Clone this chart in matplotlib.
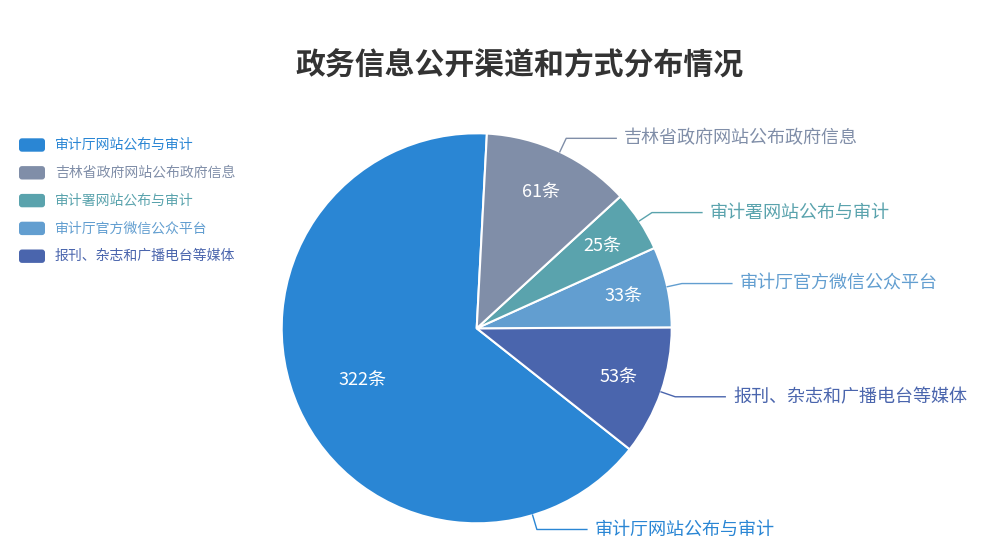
import numpy as np
import matplotlib
matplotlib.use("Agg")
import matplotlib.pyplot as plt
from matplotlib.patches import FancyBboxPatch

plt.rcParams['font.family'] = ['Noto Sans CJK SC', 'DejaVu Sans']

title = "政务信息公开渠道和方式分布情况"
# legend order
categories = ["审计厅网站公布与审计", "吉林省政府网站公布政府信息", "审计署网站公布与审计",
              "审计厅官方微信公众平台", "报刊、杂志和广播电台等媒体"]
counts = [322, 61, 25, 33, 53]
unit = "条"
colors = ["#2a86d4", "#808ea8", "#5aa3ad", "#629ed0", "#4a65ad"]
# order of the slices going counterclockwise round the pie
pie_order = [0, 4, 3, 2, 1]

W, H = 1000, 554
fig = plt.figure(figsize=(W / 100, H / 100), dpi=100)
ax = fig.add_axes([0, 0, 1, 1])

cx, cy, R = 476.7, H - 328.3, 195

vals = [counts[i] for i in pie_order]
cols = [colors[i] for i in pie_order]
wedges, _ = ax.pie(vals, colors=cols, startangle=87, counterclock=True,
                   center=(cx, cy), radius=R,
                   wedgeprops=dict(edgecolor="white", linewidth=1.5))

ax.set_xlim(0, W)
ax.set_ylim(0, H)
ax.set_aspect("equal")
ax.axis("off")

total = sum(vals)
for w, idx in zip(wedges, pie_order):
    t1, t2 = w.theta1, w.theta2
    mid = np.deg2rad((t1 + t2) / 2)
    frac = counts[idx] / total
    # value inside the slice
    d = 0.64 if frac > 0.5 else 0.77
    ax.text(cx + d * R * np.cos(mid), cy + d * R * np.sin(mid),
            f"{counts[idx]}{unit}", color="white", fontsize=13,
            ha="center", va="center")
    # outer label with leader line (big slice: put it near its end, like the original)
    a = np.deg2rad(t2 - 35) if frac > 0.5 else mid
    x0, y0 = cx + R * np.cos(a), cy + R * np.sin(a)
    x1, y1 = cx + (R + 15) * np.cos(a), cy + (R + 15) * np.sin(a)
    side = 1 if np.cos(a) >= 0 else -1
    x2 = x1 + side * 50
    ax.plot([x0, x1, x2], [y0, y1, y1], color=colors[idx], lw=1)
    ax.text(x2 + side * 8, y1, categories[idx], color=colors[idx], fontsize=13,
            ha="left" if side > 0 else "right", va="center")

# legend
for i, (name, c) in enumerate(zip(categories, colors)):
    y = H - (145 + i * 27.8)
    ax.add_patch(FancyBboxPatch((19, y - 6.7), 26, 13.4,
                                boxstyle="round,pad=0,rounding_size=3",
                                fc=c, ec="none"))
    ax.text(55, y, name, color=c, fontsize=10, ha="left", va="center")

ax.text(520, H - 66, title, fontsize=21.5, fontweight="bold", color="#333333",
        ha="center", va="center")

fig.savefig("out.png", dpi=100)
